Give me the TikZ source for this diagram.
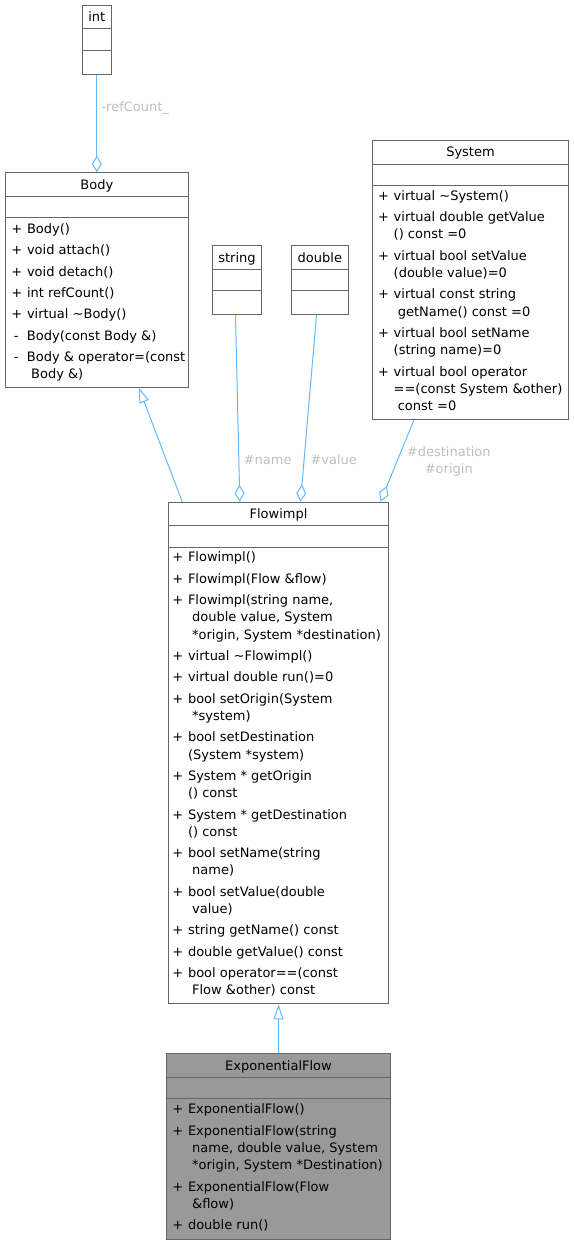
\documentclass[tikz,border=0pt]{standalone}
\usepackage{fontspec}
\setmainfont{DejaVu Sans}
\usetikzlibrary{arrows.meta}

\definecolor{edgeblue}{HTML}{63B8FF}
\definecolor{boxgray}{HTML}{666666}
\definecolor{lblgray}{HTML}{BEBEBE}
\definecolor{hlgray}{HTML}{999999}

\newcommand{\pub}{\makebox[15.6pt][l]{+}}
\newcommand{\pvt}{\makebox[15.6pt][l]{\hspace{2.4pt}-}}
\newcommand{\cnt}{\hspace*{15.6pt}}

\begin{document}
\begin{tikzpicture}[x=1pt,y=-1pt]

\tikzstyle{cls}=[draw=boxgray, line width=1pt, fill=white, anchor=north west, inner sep=0pt]
\tikzstyle{txt}=[font=\fontsize{13}{17.2}\selectfont, inner sep=0pt]
\tikzstyle{members}=[txt, align=left, anchor=north west]
\tikzstyle{clsname}=[txt, anchor=base]
\tikzstyle{link}=[draw=edgeblue, line width=1pt]
\tikzstyle{aggr}=[link, -{Diamond[open,length=17pt,width=10pt]}]
\tikzstyle{inherit}=[link, -{Triangle[open,length=15pt,width=10pt]}]
\tikzstyle{lbl}=[txt, text=lblgray]

\useasboundingbox (0,0) rectangle (573,1244);

% class boxes
\node[cls, minimum width=29.3pt, minimum height=69pt] (int) at (81.7,5) {};
\node[cls, minimum width=182.7pt, minimum height=214.4pt] (body) at (5,172.3) {};
\node[cls, minimum width=49.6pt, minimum height=69pt] (string) at (211.7,245) {};
\node[cls, minimum width=57.3pt, minimum height=69pt] (double) at (290.7,245) {};
\node[cls, minimum width=195.4pt, minimum height=279.3pt] (system) at (372.3,140) {};
\node[cls, minimum width=220pt, minimum height=501.6pt] (flowimpl) at (168,501.7) {};
\node[cls, fill=hlgray, minimum width=223.4pt, minimum height=185.7pt] (expflow) at (166.3,1053.3) {};

\foreach \c/\t in {int/int, body/Body, string/string, double/double, system/System, flowimpl/Flowimpl, expflow/ExponentialFlow} {
  \node[clsname] (\c-name) at ([yshift=-17pt]\c.north) {\t};
  \draw[draw=boxgray, line width=1pt] ([yshift=-24pt]\c.north west) -- ([yshift=-24pt]\c.north east)
    ([yshift=-45.5pt]\c.north west) -- ([yshift=-45.5pt]\c.north east);
}

% operations
\node[members] (body-ops) at ([xshift=6.2pt,yshift=-48.66pt]body.north west) {\strut\pub Body()\\[4.2pt]
\pub void attach()\\[4.2pt]
\pub void detach()\\[4.2pt]
\pub int refCount()\\[4.2pt]
\pub virtual \textasciitilde Body()\\[4.2pt]
\pvt Body(const Body \&)\\[4.2pt]
\pvt Body \& operator=(const\\
\cnt\ Body \&)};

\node[members] (system-ops) at ([xshift=5.6pt,yshift=-47.96pt]system.north west) {\strut\pub virtual \textasciitilde System()\\[4.2pt]
\pub virtual double getValue\\
\cnt() const =0\\[4.2pt]
\pub virtual bool setValue\\
\cnt(double value)=0\\[4.2pt]
\pub virtual const string\\
\cnt\ getName() const =0\\[4.2pt]
\pub virtual bool setName\\
\cnt(string name)=0\\[4.2pt]
\pub virtual bool operator\\
\cnt==(const System \&other)\\
\cnt\ const =0};

\node[members] (flowimpl-ops) at ([xshift=4.2pt,yshift=-47.86pt]flowimpl.north west) {\strut\pub Flowimpl()\\[4.2pt]
\pub Flowimpl(Flow \&flow)\\[4.2pt]
\pub Flowimpl(string name,\\
\cnt\ double value, System\\
\cnt\ *origin, System *destination)\\[4.2pt]
\pub virtual \textasciitilde Flowimpl()\\[4.2pt]
\pub virtual double run()=0\\[4.2pt]
\pub bool setOrigin(System\\
\cnt\ *system)\\[4.2pt]
\pub bool setDestination\\
\cnt(System *system)\\[4.2pt]
\pub System * getOrigin\\
\cnt() const\\[4.2pt]
\pub System * getDestination\\
\cnt() const\\[4.2pt]
\pub bool setName(string\\
\cnt\ name)\\[4.2pt]
\pub bool setValue(double\\
\cnt\ value)\\[4.2pt]
\pub string getName() const\\[4.2pt]
\pub double getValue() const\\[4.2pt]
\pub bool operator==(const\\
\cnt\ Flow \&other) const};

\node[members] (expflow-ops) at ([xshift=5.9pt,yshift=-48.26pt]expflow.north west) {\strut\pub ExponentialFlow()\\[4.2pt]
\pub ExponentialFlow(string\\
\cnt\ name, double value, System\\
\cnt\ *origin, System *Destination)\\[4.2pt]
\pub ExponentialFlow(Flow\\
\cnt\ \&flow)\\[4.2pt]
\pub double run()};

% relations
\draw[aggr] (int.south) -- node[lbl, pos=0.376, anchor=base west, xshift=4.2pt] (refcount-lbl) {-refCount\_} (body.north);
\draw[aggr] ([xshift=-1.5pt]string.south) -- node[lbl, pos=0.8, anchor=base west, xshift=4.4pt] (name-lbl) {\#name} ([xshift=-38.7pt]flowimpl.north);
\draw[aggr] ([xshift=-3.35pt]double.south) -- node[lbl, pos=0.8, anchor=base west, xshift=6.3pt] (value-lbl) {\#value} ([xshift=22pt]flowimpl.north);
\draw[aggr] ([xshift=-56.7pt]system.south) -- node[lbl, align=center, pos=0.5, xshift=51.65pt, yshift=-0.7pt] (system-lbl) {\strut\#destination\\\strut\#origin} ([xshift=102pt]flowimpl.north);
\draw[inherit] ([xshift=-96.3pt]flowimpl.north) -- ([xshift=42pt]body.south);
\draw[inherit] (expflow.north) -- (flowimpl.south);
\end{tikzpicture}
\end{document}
